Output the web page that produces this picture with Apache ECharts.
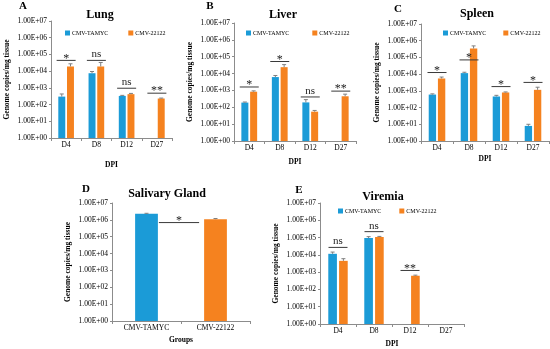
<!DOCTYPE html>
<html><head><meta charset="utf-8">
<script src="https://cdn.jsdelivr.net/npm/echarts@6/dist/echarts.min.js"></script>
<style>html,body{margin:0;padding:0;background:#fff}#c{width:550px;height:349px}</style>
</head><body><div id="c"></div><script>
// ---------- data ----------
const dpi = ['D4', 'D8', 'D12', 'D27'];
const groups = ['CMV-TAMYC', 'CMV-22122'];

const lungTamyc = [300, 7500, 330, null];
const lung22122 = [19000, 19000, 420, 230];
const lungTamycErr = [130, 2000, 25, null];
const lung22122Err = [8500, 14000, 45, 15];
const lungSigLevel = [44000, 44000, 950, 480];
const lungSigText = ['*', 'ns', 'ns', '**'];

const liverTamyc = [190, 6200, 195, null];
const liver22122 = [840, 24000, 55, 450];
const liverTamycErr = [15, 1500, 90, null];
const liver22122Err = [100, 10000, 10, 150];
const liverSigLevel = [1600, 52000, 410, 910];
const liverSigText = ['*', '*', 'ns', '**'];

const spleenTamyc = [600, 11500, 460, 8];
const spleen22122 = [5500, 340000, 800, 1150];
const spleenTamycErr = [60, 1500, 80, 2];
const spleen22122Err = [1200, 150000, 60, 500];
const spleenSigLevel = [12500, 71000, 1800, 3200];
const spleenSigText = ['*', '*', '*', '*'];

const salivaryValues = [2300000, 1100000];
const salivaryErr = [150000, 100000];
const salivarySigLevel = 690000;
const salivarySigText = '*';

const viremiaTamyc = [11500, 93000, null, null];
const viremia22122 = [4500, 107000, 620, null];
const viremiaTamycErr = [3000, 20000, null, null];
const viremia22122Err = [1500, 10000, 50, null];
const viremiaSigLevel = [27000, 220000, 1250, null];
const viremiaSigText = ['ns', 'ns', '**', ''];

// ---------- styling ----------
const BLUE = '#1b9bd7', ORANGE = '#f5821f', SERIF = 'Liberation Serif';
const chart = echarts.init(document.getElementById('c'), null, {renderer: 'canvas'});

const grids = [
  {left: 51, top: 21, width: 121, height: 117},
  {left: 234, top: 23, width: 122, height: 118},
  {left: 421, top: 24, width: 128, height: 117},
  {left: 112, top: 203, width: 138, height: 118},
  {left: 320, top: 203, width: 144, height: 121}
];
const barFrac = [0.23, 0.23, 0.23, 0.33, 0.24];
const xNameGap = [23, 17, 14, 15, 16];

function fmt(v) {
  const e = Math.round(Math.log10(v));
  return '1.00E+' + String(e).padStart(2, '0');
}

const xAxes = grids.map((g, i) => ({
  type: 'category', gridIndex: i,
  data: i === 3 ? groups : dpi,
  name: i === 3 ? 'Groups' : 'DPI', nameLocation: 'middle', nameGap: xNameGap[i],
  nameTextStyle: {fontFamily: SERIF, fontWeight: 'bold', fontSize: 7.5, color: '#000'},
  axisLine: {lineStyle: {color: '#8c8c8c', width: 1}},
  axisTick: {show: true, length: 3, lineStyle: {color: '#8c8c8c'}},
  axisLabel: {fontFamily: SERIF, fontSize: 7.5, color: '#000', margin: 3}
}));
const yAxes = grids.map((g, i) => ({
  type: 'log', logBase: 10, gridIndex: i, min: 1, max: 1e7, splitNumber: 7,
  name: 'Genome copies/mg tissue', nameLocation: 'middle', nameGap: 40,
  nameTextStyle: {fontFamily: SERIF, fontWeight: 'bold', fontSize: 7.5, color: '#000'},
  axisLine: {show: true, lineStyle: {color: '#8c8c8c', width: 1}},
  axisTick: {show: true, length: 2, lineStyle: {color: '#8c8c8c'}},
  splitLine: {show: false},
  axisLabel: {fontFamily: SERIF, fontSize: 7.5, color: '#000', margin: 4, formatter: fmt}
}));

function errRender(panel, nSeries) {
  return function (params, api) {
    const cat = api.value(0), v = api.value(1), top = api.value(2), s = api.value(3);
    const band = api.size([1, 0])[0];
    const bw = band * barFrac[panel];
    let off = 0;
    if (nSeries === 2) off = (s === 0 ? -1 : 1) * bw * 1.25 / 2;
    const p0 = api.coord([cat, v]);
    const p1 = api.coord([cat, top]);
    const x = p0[0] + off;
    const st = {stroke: '#7f7f7f', lineWidth: 1};
    return {type: 'group', children: [
      {type: 'line', shape: {x1: x, y1: p0[1], x2: x, y2: p1[1]}, style: st},
      {type: 'line', shape: {x1: x - 2, y1: p1[1], x2: x + 2, y2: p1[1]}, style: st}
    ]};
  };
}
function errData(a, ae, b, be) {
  const out = [];
  a.forEach((v, i) => { if (v != null && ae[i] != null) out.push([i, v, v + ae[i], 0]); });
  b.forEach((v, i) => { if (v != null && be[i] != null) out.push([i, v, v + be[i], 1]); });
  return out;
}
function sigRender(texts) {
  return function (params, api) {
    const cat = api.value(0), lv = api.value(1);
    const p = api.coord([cat, lv]);
    const t = texts[params.dataIndex];
    const isNs = t === 'ns';
    return {type: 'group', children: [
      {type: 'line', shape: {x1: p[0] - 9.5, y1: p[1], x2: p[0] + 9.5, y2: p[1]}, style: {stroke: '#3a3a3a', lineWidth: 1}},
      {type: 'text', x: p[0], y: isNs ? p[1] - 0.5 : p[1] + 4, style: {text: t, fontFamily: SERIF, fontSize: isNs ? 11 : 12, fill: '#222', align: 'center', verticalAlign: 'bottom'}}
    ]};
  };
}
function sigData(levels) {
  const out = [];
  levels.forEach((l, i) => { if (l != null) out.push([i, l]); });
  return out;
}
function sigTexts(levels, texts) {
  return texts.filter((t, i) => levels[i] != null);
}

const panels = [
  [lungTamyc, lung22122, lungTamycErr, lung22122Err, lungSigLevel, lungSigText],
  [liverTamyc, liver22122, liverTamycErr, liver22122Err, liverSigLevel, liverSigText],
  [spleenTamyc, spleen22122, spleenTamycErr, spleen22122Err, spleenSigLevel, spleenSigText],
  null,
  [viremiaTamyc, viremia22122, viremiaTamycErr, viremia22122Err, viremiaSigLevel, viremiaSigText]
];

const series = [];
panels.forEach((p, i) => {
  if (!p) return;
  const bw = (barFrac[i] * 100) + '%';
  series.push({type: 'bar', name: groups[0], xAxisIndex: i, yAxisIndex: i, data: p[0].map(v => v == null ? '-' : v),
    barWidth: bw, barGap: '25%', itemStyle: {color: BLUE}, silent: true});
  series.push({type: 'bar', name: groups[1], xAxisIndex: i, yAxisIndex: i, data: p[1].map(v => v == null ? '-' : v),
    barWidth: bw, barGap: '25%', itemStyle: {color: ORANGE}, silent: true});
  series.push({type: 'custom', xAxisIndex: i, yAxisIndex: i, renderItem: errRender(i, 2),
    data: errData(p[0], p[2], p[1], p[3]), silent: true, z: 3});
  series.push({type: 'custom', xAxisIndex: i, yAxisIndex: i, renderItem: sigRender(sigTexts(p[4], p[5])),
    data: sigData(p[4]), silent: true, z: 4});
});
// Salivary gland panel
series.push({type: 'bar', name: 'Salivary Gland', xAxisIndex: 3, yAxisIndex: 3,
  data: [{value: salivaryValues[0], itemStyle: {color: BLUE}}, {value: salivaryValues[1], itemStyle: {color: ORANGE}}],
  barWidth: (barFrac[3] * 100) + '%', silent: true});
series.push({type: 'custom', xAxisIndex: 3, yAxisIndex: 3, renderItem: errRender(3, 1),
  data: salivaryValues.map((v, i) => [i, v, v + salivaryErr[i], i]), silent: true, z: 3});
series.push({type: 'custom', xAxisIndex: 3, yAxisIndex: 3,
  renderItem: function (params, api) {
    const band = api.size([1, 0])[0];
    const bw = band * barFrac[3];
    const a = api.coord([0, salivarySigLevel]), b = api.coord([1, salivarySigLevel]);
    const x1 = a[0] + bw / 2 + 1, x2 = b[0] - bw / 2 - 5;
    return {type: 'group', children: [
      {type: 'line', shape: {x1: x1, y1: a[1], x2: x2, y2: a[1]}, style: {stroke: '#3a3a3a', lineWidth: 1}},
      {type: 'text', x: (x1 + x2) / 2, y: a[1] + 4, style: {text: salivarySigText, fontFamily: SERIF, fontSize: 12, fill: '#222', align: 'center', verticalAlign: 'bottom'}}
    ]};
  },
  data: [[0, salivarySigLevel]], silent: true, z: 4});

const titleStyle = {fontFamily: SERIF, fontWeight: 'bold', fontSize: 12, color: '#000'};
const letterStyle = {fontFamily: SERIF, fontWeight: 'bold', fontSize: 11, color: '#000'};
const titles = [
  ['A', 23, 1, letterStyle], ['Lung', 100, 9, titleStyle],
  ['B', 210, 1, letterStyle], ['Liver', 283, 9, titleStyle],
  ['C', 398, 4, letterStyle], ['Spleen', 477, 8, titleStyle],
  ['D', 86, 184, letterStyle], ['Salivary Gland', 167, 188, titleStyle],
  ['E', 299, 185, letterStyle], ['Viremia', 383, 191, titleStyle]
].map(t => ({text: t[0], left: t[1], top: t[2], textAlign: 'center', padding: 0, textStyle: t[3]}));

const legendBase = {data: groups, icon: 'rect', itemWidth: 5, itemHeight: 5, padding: 0, selectedMode: false,
  textStyle: {fontFamily: SERIF, fontSize: 6, color: '#000', padding: [0, 0, 0, -3]}};
const legends = [
  {left: 65, top: 30, itemGap: 20},
  {left: 246, top: 30, itemGap: 23},
  {left: 443, top: 30, itemGap: 17},
  {left: 338, top: 208, itemGap: 18}
].map(l => Object.assign({}, legendBase, l));

chart.setOption({
  animation: false,
  backgroundColor: '#fff',
  title: titles,
  legend: legends,
  grid: grids,
  xAxis: xAxes,
  yAxis: yAxes,
  series: series
});
</script></body></html>
